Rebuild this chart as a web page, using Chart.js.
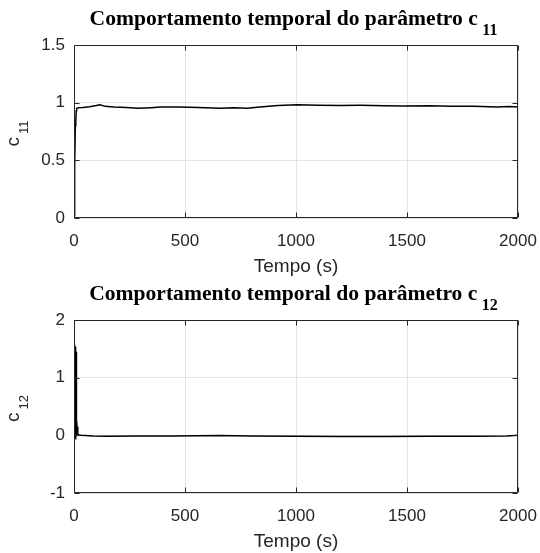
<!DOCTYPE html>
<html>
<head>
<meta charset="utf-8">
<script src="https://cdn.jsdelivr.net/npm/chart.js@4.4.1/dist/chart.umd.min.js"></script>
<style>
  body { margin: 0; background: #fff; }
  canvas { display: block; }
</style>
</head>
<body>
<canvas id="c11" width="540" height="276"></canvas>
<canvas id="c12" width="540" height="277"></canvas>
<script>
// --- data ---
const tempo11 = [0, 3, 6, 8, 10, 12, 20, 40, 70, 100, 117, 140, 180, 237, 288, 350, 387, 477, 560, 658, 720, 779, 850, 920, 1005, 1100, 1200, 1288, 1400, 1482, 1600, 1700, 1800, 1905, 1960, 2000];
const c11 = [0.02, 0.45, 0.8, 0.84, 0.93, 0.951, 0.955, 0.958, 0.965, 0.975, 0.982, 0.968, 0.962, 0.958, 0.951, 0.957, 0.962, 0.962, 0.958, 0.951, 0.955, 0.951, 0.965, 0.975, 0.982, 0.978, 0.976, 0.977, 0.974, 0.971, 0.973, 0.970, 0.968, 0.962, 0.966, 0.963];

const tempo12 = [0, 0.5, 1, 1.5, 2, 2.5, 3, 3.5, 4, 4.5, 5, 5.5, 6, 6.5, 7, 7.5, 8, 8.5, 9, 9.5, 10, 11, 12, 14, 17, 20, 30, 50, 86, 150, 300, 450, 650, 800, 1000, 1200, 1400, 1600, 1800, 1950, 2000];
const c12 = [0, 1.58, -0.04, 1.57, -0.03, 1.56, -0.05, 1.55, -0.02, 1.55, -0.04, 1.54, -0.03, 1.53, -0.05, 1.52, -0.02, 1.5, -0.03, 1.45, -0.02, 0.22, 0.08, 0.15, 0.03, 0.01, 0.0, -0.005, -0.012, -0.015, -0.012, -0.01, -0.002, -0.01, -0.015, -0.02, -0.02, -0.018, -0.015, -0.012, 0.0];

const xTicks = [0, 500, 1000, 1500, 2000];
const yTicks11 = [0, 0.5, 1, 1.5];
const yTicks12 = [-1, 0, 1, 2];

const titleText = 'Comportamento temporal do parâmetro c';
const xLabel = 'Tempo (s)';

Chart.defaults.font.family = '"Liberation Sans", Arial, sans-serif';
const AXIS = '#262626';

// box, inward ticks, titles and axis labels (MATLAB look)
const frame = {
  id: 'frame',
  afterDraw(chart, args, opts) {
    const { ctx, chartArea: a, scales: { x, y } } = chart;
    const L = Math.round(a.left) + 0.5, R = Math.round(a.right) - 0.5;
    const T = Math.round(a.top) + 0.5, B = Math.round(a.bottom) - 0.5;
    ctx.save();
    ctx.strokeStyle = AXIS;
    ctx.lineWidth = 1;
    ctx.beginPath();
    ctx.rect(L, T, R - L, B - T);
    x.ticks.forEach(t => {
      const p = Math.round(x.getPixelForValue(t.value)) + 0.5;
      ctx.moveTo(p, B); ctx.lineTo(p, B - 5);
      ctx.moveTo(p, T); ctx.lineTo(p, T + 5);
    });
    y.ticks.forEach(t => {
      const p = Math.round(y.getPixelForValue(t.value)) + 0.5;
      ctx.moveTo(L, p); ctx.lineTo(L + 5, p);
      ctx.moveTo(R, p); ctx.lineTo(R - 5, p);
    });
    ctx.stroke();

    const cx = (a.left + a.right) / 2;
    const cy = (a.top + a.bottom) / 2;

    // title with subscript
    ctx.fillStyle = '#000';
    ctx.textBaseline = 'alphabetic';
    ctx.textAlign = 'left';
    const fMain = 'bold 21.6px "Liberation Serif", "Times New Roman", serif';
    const fSub = 'bold 16px "Liberation Serif", "Times New Roman", serif';
    ctx.font = fMain;
    const wMain = ctx.measureText(titleText).width;
    ctx.font = fSub;
    const wSub = ctx.measureText(opts.sub).width;
    const gap = 4.5;
    const x0 = cx - 2.5 - (wMain + gap + wSub) / 2;
    ctx.font = fMain;
    ctx.fillText(titleText, x0, a.top - 20);
    ctx.font = fSub;
    ctx.fillText(opts.sub, x0 + wMain + gap, a.top - 10);

    // x label
    ctx.fillStyle = AXIS;
    ctx.textAlign = 'center';
    ctx.font = '19px "Liberation Sans", Arial, sans-serif';
    ctx.fillText(xLabel, cx, a.bottom + 54);

    // y label: c with subscript, rotated
    ctx.translate(19, cy + 2);
    ctx.rotate(-Math.PI / 2);
    ctx.textAlign = 'left';
    const fy = '19px "Liberation Sans", Arial, sans-serif';
    const fys = '13px "Liberation Sans", Arial, sans-serif';
    ctx.font = fy;
    const wc = ctx.measureText('c').width;
    ctx.font = fys;
    const ws = ctx.measureText(opts.sub).width;
    const start = -(wc + 3 + ws) / 2;
    ctx.font = fy;
    ctx.fillText('c', start, 0);
    ctx.font = fys;
    ctx.fillText(opts.sub, start + wc + 3, 9);
    ctx.restore();
  }
};

function makeChart(id, xs, ys, yTicks, sub, topPad, xAxisH) {
  const points = xs.map((t, i) => ({ x: t, y: ys[i] }));
  return new Chart(document.getElementById(id), {
    type: 'line',
    data: {
      datasets: [{
        data: points,
        borderColor: '#000',
        borderWidth: 1.5,
        pointRadius: 0,
        tension: 0,
        fill: false
      }]
    },
    options: {
      responsive: false,
      animation: false,
      devicePixelRatio: 1,
      layout: { padding: { top: topPad, right: 22, left: 0, bottom: 0 } },
      plugins: {
        legend: { display: false },
        tooltip: { enabled: false },
        frame: { sub: sub }
      },
      scales: {
        x: {
          type: 'linear',
          min: xTicks[0],
          max: xTicks[xTicks.length - 1],
          afterBuildTicks: s => { s.ticks = xTicks.map(v => ({ value: v })); },
          afterFit: s => { s.height = xAxisH; s.paddingLeft = 0; s.paddingRight = 0; },
          grid: { color: '#e3e3e3', drawTicks: false, tickLength: 0 },
          border: { display: false },
          ticks: { color: AXIS, font: { size: 17 }, padding: 13, maxRotation: 0, autoSkip: false, callback: v => String(v) }
        },
        y: {
          min: yTicks[0],
          max: yTicks[yTicks.length - 1],
          afterBuildTicks: s => { s.ticks = yTicks.map(v => ({ value: v })); },
          afterFit: s => { s.width = 74; s.paddingTop = 0; s.paddingBottom = 0; },
          grid: { color: '#e3e3e3', drawTicks: false, tickLength: 0 },
          border: { display: false },
          ticks: { color: AXIS, font: { size: 17 }, padding: 9, callback: v => String(v) }
        }
      }
    },
    plugins: [frame]
  });
}

makeChart('c11', tempo11, c11, yTicks11, '11', 45, 58);
makeChart('c12', tempo12, c12, yTicks12, '12', 44, 60);
</script>
</body>
</html>
